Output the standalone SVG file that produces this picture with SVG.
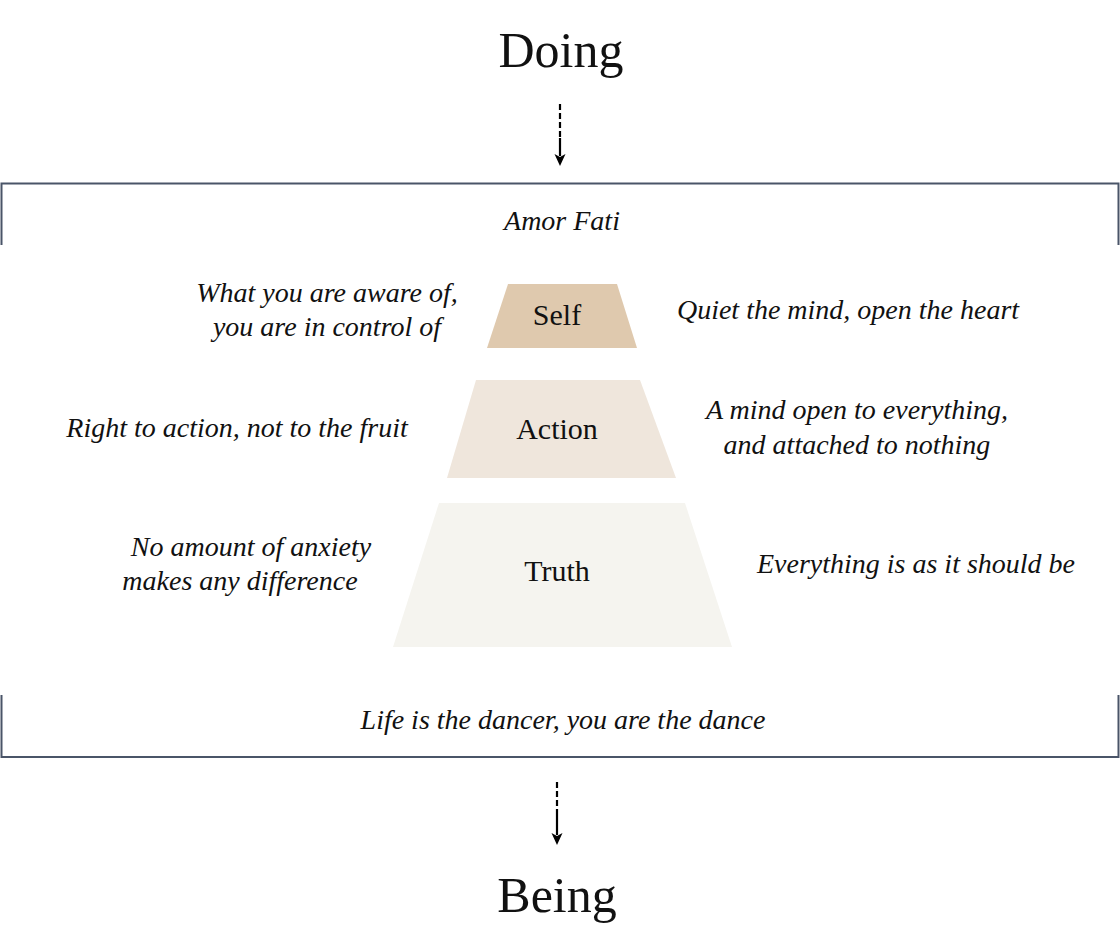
<svg xmlns="http://www.w3.org/2000/svg" width="1120" height="948" viewBox="0 0 1120 948">
<style>
.t{font-family:"Liberation Serif","DejaVu Serif",serif;fill:#111;}
.big{font-size:50px;text-anchor:middle;}
.node{font-size:30px;text-anchor:middle;}
.it{font-size:28px;font-style:italic;text-anchor:middle;}
.frame{fill:none;stroke:#4a5568;stroke-width:2;}
.dash{stroke:#000;stroke-width:2.2;stroke-dasharray:6,3;fill:none;}
.solid{stroke:#000;stroke-width:2.2;fill:none;}
</style>
<defs>
<marker id="ah" markerWidth="12" markerHeight="12" refX="2" refY="6" orient="auto" markerUnits="userSpaceOnUse" viewBox="0 0 12 12">
<path d="M0,0.5 L12,6 L0,11.5 L3,6 Z" fill="#000"/>
</marker>
</defs>
<rect width="1120" height="948" fill="#fff"/>
<g id="frame">
<path class="frame" d="M1.5,245 V183.5 H1118.5 V245"/>
<path class="frame" d="M1.5,695 V757 H1118.5 V695"/>
</g>
<g id="connectors">
<line class="dash" x1="560" y1="104" x2="560" y2="138"/>
<line class="solid" x1="560" y1="138" x2="560" y2="156" marker-end="url(#ah)"/>
<line class="dash" x1="557" y1="782" x2="557" y2="815"/>
<line class="solid" x1="557" y1="815" x2="557" y2="835" marker-end="url(#ah)"/>
</g>
<g id="doing"><text class="t big" x="561" y="67">Doing</text></g>
<g id="being"><text class="t big" x="557" y="912">Being</text></g>
<g id="amor-fati"><text class="t it" x="562" y="230">Amor Fati</text></g>
<g id="self">
<polygon points="508,284 617,284 637,348 487,348" fill="#dfc9ae"/>
<text class="t node" x="557" y="325">Self</text>
</g>
<g id="action">
<polygon points="476,380 640,380 676,478 447,478" fill="#efe6dc"/>
<text class="t node" x="557" y="439">Action</text>
</g>
<g id="truth">
<polygon points="439,503 685,503 732,647 393,647" fill="#f5f4ef"/>
<text class="t node" x="557" y="581">Truth</text>
</g>
<g id="label-self-left">
<text class="t it" x="327" y="302">What you are aware of,</text>
<text class="t it" x="327" y="336">you are in control of</text>
</g>
<g id="label-self-right"><text class="t it" x="848" y="319">Quiet the mind, open the heart</text></g>
<g id="label-action-left"><text class="t it" x="237" y="437">Right to action, not to the fruit</text></g>
<g id="label-action-right">
<text class="t it" x="857" y="419">A mind open to everything,</text>
<text class="t it" x="857" y="454">and attached to nothing</text>
</g>
<g id="label-truth-left">
<text class="t it" x="251" y="556">No amount of anxiety</text>
<text class="t it" x="240" y="590">makes any difference</text>
</g>
<g id="label-truth-right"><text class="t it" x="916" y="573">Everything is as it should be</text></g>
<g id="life"><text class="t it" x="563" y="729">Life is the dancer, you are the dance</text></g>
</svg>
